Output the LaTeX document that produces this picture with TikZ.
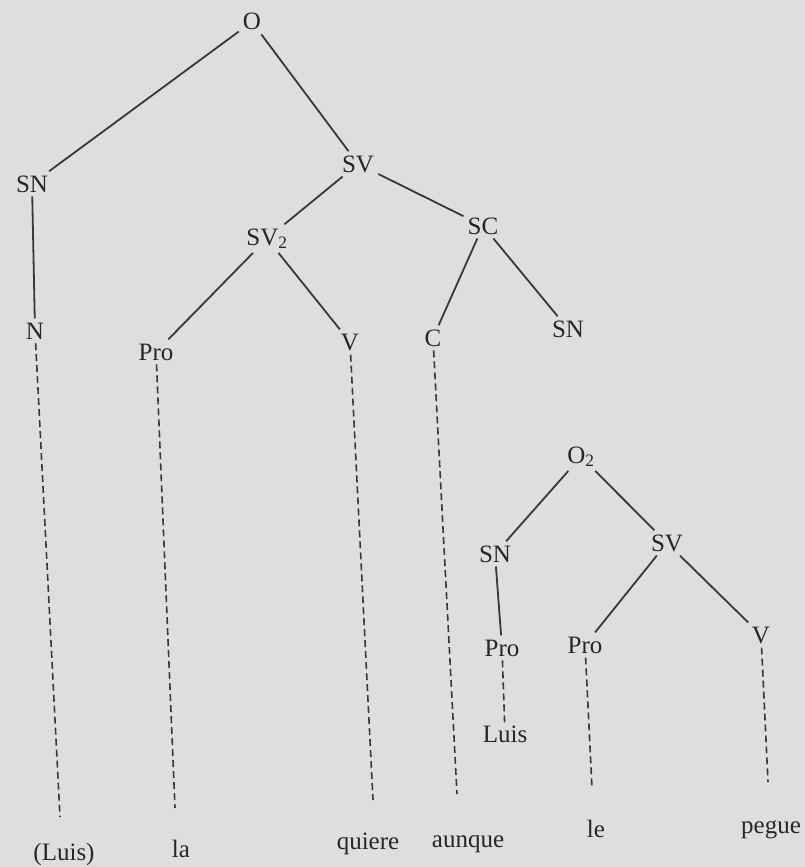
\documentclass[tikz,border=0pt]{standalone}
\usepackage{fontspec}
\setmainfont{Liberation Serif}
\begin{document}
\begin{tikzpicture}[x=1pt,y=-1pt,
    cat/.style={anchor=base,inner sep=4pt,text=black!85,font=\fontsize{25}{29}\selectfont},
    branch/.style={line width=1.8pt,draw=black!78},
    trace/.style={line width=1.6pt,draw=black!78,dash pattern=on 7pt off 4pt}]
  \useasboundingbox (0,0) rectangle (805,867);
  \fill[black!13] (0,0) rectangle (805,867);

  % main clause
  \node[cat] (O) at (252,30) {O};
  \node[cat] (sn1) at (32,192) {SN};
  \node[cat] (sv1) at (358,172) {SV};
  \node[cat] (sv2) at (267,245) {SV\textsubscript{2}};
  \node[cat] (sc) at (483,234) {SC};
  \node[cat] (n1) at (35,339) {N};
  \node[cat] (pro1) at (156,360) {Pro};
  \node[cat] (v1) at (350,350) {V};
  \node[cat] (c1) at (433,346) {C};
  \node[cat] (sn2) at (568,337) {SN};

  % embedded clause
  \node[cat] (o2) at (581,463) {O\textsubscript{2}};
  \node[cat] (sn3) at (495,562) {SN};
  \node[cat] (sv3) at (667,551) {SV};
  \node[cat] (pro2) at (502,656) {Pro};
  \node[cat] (pro3) at (585,653) {Pro};
  \node[cat] (v2) at (761,643) {V};
  \node[cat,inner sep=2pt] (luis) at (505,742) {Luis};

  % words
  \node[cat] (w1) at (64,860) {(Luis)};
  \node[cat] (w2) at (181,857) {la};
  \node[cat] (w3) at (368,849) {quiere};
  \node[cat] (w4) at (468,847) {aunque};
  \node[cat] (w5) at (596,837) {le};
  \node[cat] (w6) at (771,833) {pegue};

  \coordinate (e1) at (60,817);
  \coordinate (e2) at (175,808);
  \coordinate (e3) at (373,800);
  \coordinate (e4) at (457,794);
  \coordinate (e5) at (592,788);
  \coordinate (e6) at (768,782);

  \draw[branch] (O) -- (sn1);
  \draw[branch] (O) -- (sv1);
  \draw[branch] (sv1) -- (sv2);
  \draw[branch] (sv1) -- (sc);
  \draw[branch] (sn1) -- (n1);
  \draw[branch] (sv2) -- (pro1);
  \draw[branch] (sv2) -- (v1);
  \draw[branch] (sc) -- (c1);
  \draw[branch] (sc) -- (sn2);

  \draw[branch] (o2) -- (sn3);
  \draw[branch] (o2) -- (sv3);
  \draw[branch] (sn3) -- (pro2);
  \draw[branch] (sv3) -- (pro3);
  \draw[branch] (sv3) -- (v2);

  \draw[trace] (n1) -- (e1);
  \draw[trace] (pro1) -- (e2);
  \draw[trace] (v1) -- (e3);
  \draw[trace] (c1) -- (e4);
  \draw[trace] (pro2) -- (luis);
  \draw[trace] (pro3) -- (e5);
  \draw[trace] (v2) -- (e6);
\end{tikzpicture}
\end{document}
